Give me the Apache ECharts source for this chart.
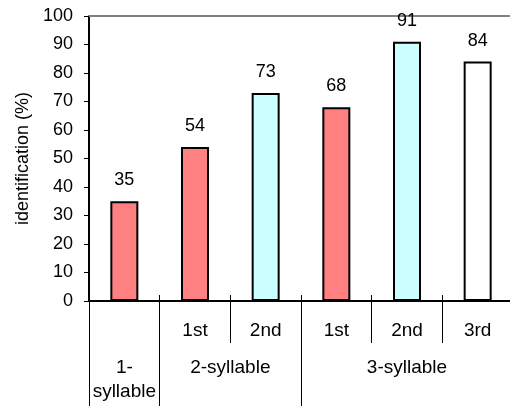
<!DOCTYPE html>
<html>
<head>
<meta charset="utf-8">
<script src="https://cdn.jsdelivr.net/npm/echarts@6/dist/echarts.min.js"></script>
<style>html,body{margin:0;padding:0;background:#fff;}#c{width:510px;height:406px;}</style>
</head>
<body>
<div id="c"></div>
<script>
const subLabels = ['', '1st', '2nd', '1st', '2nd', '3rd'];
const values = [35, 54, 73, 68, 91, 84];
const barColors = ['#FF8080', '#FF8080', '#CCFFFF', '#FF8080', '#CCFFFF', '#FFFFFF'];
const groupLabels = ['1-\nsyllable', '2-syllable', '3-syllable'];
const groupSizes = [1, 2, 3];
const yTicks = [0, 10, 20, 30, 40, 50, 60, 70, 80, 90, 100];
const yName = 'identification (%)';

// half-slot axis for group labels (boundaries and centers)
const nSlots = subLabels.length * 2 + 1;
const groupCats = new Array(nSlots).fill('');
const boundaryIdx = new Set([0]);
let start = 0;
groupLabels.forEach((g, i) => {
  const end = start + groupSizes[i];
  groupCats[start + end] = g;
  boundaryIdx.add(end * 2);
  start = end;
});

const font = 'Liberation Sans, Arial, sans-serif';
const chart = echarts.init(document.getElementById('c'));
chart.setOption({
  animation: false,
  grid: { left: 89, top: 16, right: -3, bottom: 105, containLabel: false, outerBoundsMode: 'none' },
  xAxis: [
    {
      type: 'category', position: 'bottom', data: subLabels, boundaryGap: true,
      axisLine: { show: true, lineStyle: { color: '#000', width: 2 } },
      axisTick: { show: true, inside: true, length: 6, interval: 0, lineStyle: { color: '#000', width: 1 } },
      axisLabel: { interval: 0, margin: 20, fontSize: 19, color: '#000', fontFamily: font },
      splitLine: { show: false }
    },
    {
      type: 'category', position: 'bottom', data: subLabels, boundaryGap: true,
      axisLine: { show: false },
      axisTick: { show: true, inside: false, length: 42, interval: 0, lineStyle: { color: '#000', width: 1 } },
      axisLabel: { show: false },
      splitLine: { show: false }
    },
    {
      type: 'category', position: 'bottom', data: groupCats, boundaryGap: false,
      axisLine: { show: false },
      axisTick: { show: true, inside: false, length: 105, interval: (i) => boundaryIdx.has(i), lineStyle: { color: '#000', width: 1 } },
      axisLabel: { interval: 0, margin: 55, fontSize: 19, lineHeight: 24, color: '#000', fontFamily: font, align: 'center' },
      splitLine: { show: false }
    },
    {
      type: 'category', position: 'top', data: subLabels, boundaryGap: true,
      axisLine: { show: true, onZero: false, lineStyle: { color: '#808080', width: 2 } },
      axisTick: { show: false }, axisLabel: { show: false }, splitLine: { show: false }
    }
  ],
  yAxis: {
    type: 'value', min: yTicks[0], max: yTicks[yTicks.length - 1], interval: yTicks[1] - yTicks[0],
    name: yName, nameLocation: 'middle', nameGap: 56, nameRotate: 90,
    nameTextStyle: { fontSize: 18, color: '#000', fontFamily: font },
    axisLine: { show: true, lineStyle: { color: '#000', width: 2 } },
    axisTick: { show: true, length: 5, lineStyle: { color: '#000', width: 1 } },
    axisLabel: { margin: 16, fontSize: 18, color: '#000', fontFamily: font },
    splitLine: { show: false }
  },
  series: [{
    type: 'bar', xAxisIndex: 0, barWidth: 28,
    data: values.map((v, i) => ({ value: v, itemStyle: { color: barColors[i] } })),
    itemStyle: { borderColor: '#000', borderWidth: 2 },
    label: { show: true, position: 'top', distance: 12, fontSize: 18, color: '#000', fontFamily: font }
  }]
});
</script>
</body>
</html>
